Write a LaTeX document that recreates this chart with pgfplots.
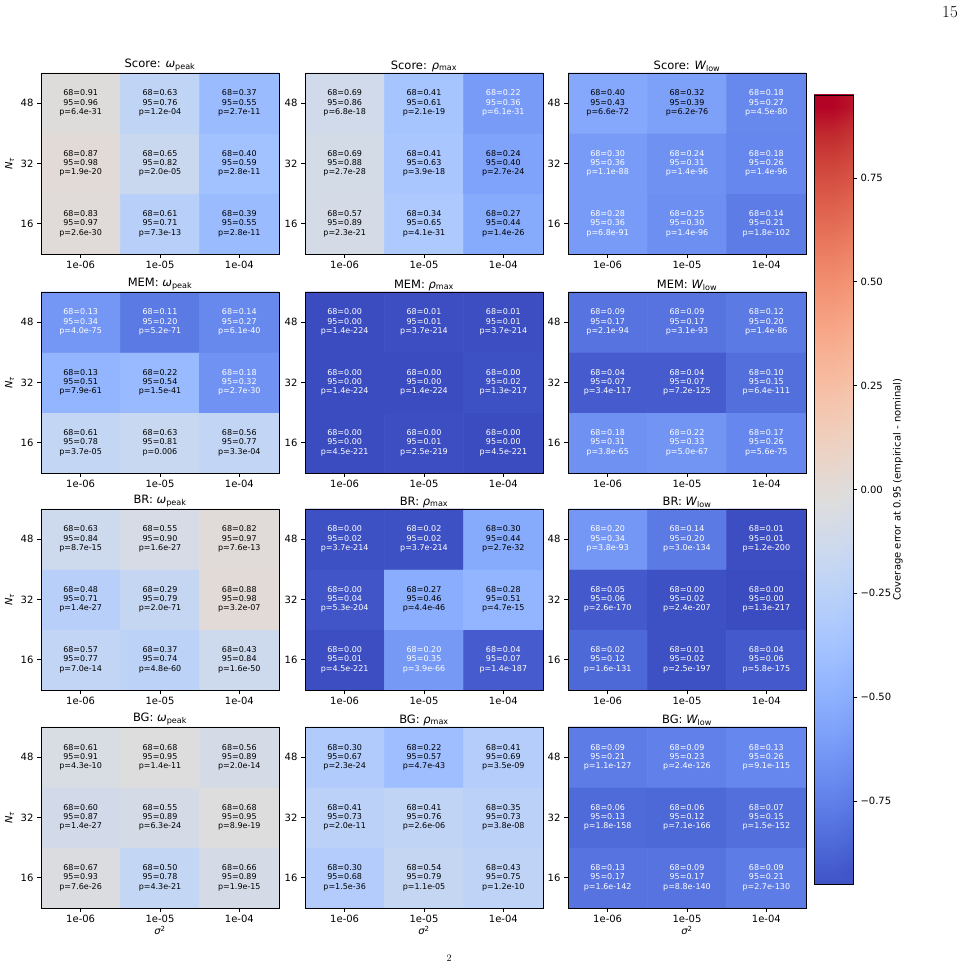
\documentclass[border=0pt]{standalone}
\usepackage{fontspec}
\usepackage{pgfplots}
\pgfplotsset{compat=1.18}
\usepackage{pgfplotstable}
\newfontfamily\dv{DejaVu Sans}

% coolwarm diverging colormap
\pgfplotsset{colormap={coolwarm}{
 rgb255=(59,76,192) rgb255=(68,90,204) rgb255=(77,104,215) rgb255=(87,117,225)
 rgb255=(98,130,234) rgb255=(108,142,241) rgb255=(119,154,247) rgb255=(130,165,251)
 rgb255=(141,176,254) rgb255=(152,185,255) rgb255=(163,194,255) rgb255=(174,201,253)
 rgb255=(184,208,249) rgb255=(194,213,244) rgb255=(204,217,238) rgb255=(213,219,230)
 rgb255=(221,221,221) rgb255=(229,216,209) rgb255=(236,211,197) rgb255=(241,204,185)
 rgb255=(245,196,173) rgb255=(247,187,160) rgb255=(247,177,148) rgb255=(247,166,135)
 rgb255=(244,154,123) rgb255=(241,141,111) rgb255=(236,127,99) rgb255=(229,112,88)
 rgb255=(222,96,77) rgb255=(213,80,66) rgb255=(203,62,56) rgb255=(192,40,47)
 rgb255=(180,4,38)}}

% columns: x = sigma^2 index (1e-06,1e-05,1e-04), y = N index (16,32,48)
% a = coverage at 68%, b = coverage at 95%, p = p-value
\pgfplotstableread{
x y a b p
0 0 0.83 0.97 2.6e-30
1 0 0.61 0.71 7.3e-13
2 0 0.39 0.55 2.8e-11
0 1 0.87 0.98 1.9e-20
1 1 0.65 0.82 2.0e-05
2 1 0.40 0.59 2.8e-11
0 2 0.91 0.96 6.4e-31
1 2 0.63 0.76 1.2e-04
2 2 0.37 0.55 2.7e-11
}\ScoreW
\pgfplotstableread{
x y a b p
0 0 0.57 0.89 2.3e-21
1 0 0.34 0.65 4.1e-31
2 0 0.27 0.44 1.4e-26
0 1 0.69 0.88 2.7e-28
1 1 0.41 0.63 3.9e-18
2 1 0.24 0.40 2.7e-24
0 2 0.69 0.86 6.8e-18
1 2 0.41 0.61 2.1e-19
2 2 0.22 0.36 6.1e-31
}\ScoreR
\pgfplotstableread{
x y a b p
0 0 0.28 0.36 6.8e-91
1 0 0.25 0.30 1.4e-96
2 0 0.14 0.21 1.8e-102
0 1 0.30 0.36 1.1e-88
1 1 0.24 0.31 1.4e-96
2 1 0.18 0.26 1.4e-96
0 2 0.40 0.43 6.6e-72
1 2 0.32 0.39 6.2e-76
2 2 0.18 0.27 4.5e-80
}\ScoreL
\pgfplotstableread{
x y a b p
0 0 0.61 0.78 3.7e-05
1 0 0.63 0.81 0.006
2 0 0.56 0.77 3.3e-04
0 1 0.13 0.51 7.9e-61
1 1 0.22 0.54 1.5e-41
2 1 0.18 0.32 2.7e-30
0 2 0.13 0.34 4.0e-75
1 2 0.11 0.20 5.2e-71
2 2 0.14 0.27 6.1e-40
}\MemW
\pgfplotstableread{
x y a b p
0 0 0.00 0.00 4.5e-221
1 0 0.00 0.01 2.5e-219
2 0 0.00 0.00 4.5e-221
0 1 0.00 0.00 1.4e-224
1 1 0.00 0.00 1.4e-224
2 1 0.00 0.02 1.3e-217
0 2 0.00 0.00 1.4e-224
1 2 0.01 0.01 3.7e-214
2 2 0.01 0.01 3.7e-214
}\MemR
\pgfplotstableread{
x y a b p
0 0 0.18 0.31 3.8e-65
1 0 0.22 0.33 5.0e-67
2 0 0.17 0.26 5.6e-75
0 1 0.04 0.07 3.4e-117
1 1 0.04 0.07 7.2e-125
2 1 0.10 0.15 6.4e-111
0 2 0.09 0.17 2.1e-94
1 2 0.09 0.17 3.1e-93
2 2 0.12 0.20 1.4e-86
}\MemL
\pgfplotstableread{
x y a b p
0 0 0.57 0.77 7.0e-14
1 0 0.37 0.74 4.8e-60
2 0 0.43 0.84 1.6e-50
0 1 0.48 0.71 1.4e-27
1 1 0.29 0.79 2.0e-71
2 1 0.88 0.98 3.2e-07
0 2 0.63 0.84 8.7e-15
1 2 0.55 0.90 1.6e-27
2 2 0.82 0.97 7.6e-13
}\BrW
\pgfplotstableread{
x y a b p
0 0 0.00 0.01 4.5e-221
1 0 0.20 0.35 3.9e-66
2 0 0.04 0.07 1.4e-187
0 1 0.00 0.04 5.3e-204
1 1 0.27 0.46 4.4e-46
2 1 0.28 0.51 4.7e-15
0 2 0.00 0.02 3.7e-214
1 2 0.02 0.02 3.7e-214
2 2 0.30 0.44 2.7e-32
}\BrR
\pgfplotstableread{
x y a b p
0 0 0.02 0.12 1.6e-131
1 0 0.01 0.02 2.5e-197
2 0 0.04 0.06 5.8e-175
0 1 0.05 0.06 2.6e-170
1 1 0.00 0.02 2.4e-207
2 1 0.00 0.00 1.3e-217
0 2 0.20 0.34 3.8e-93
1 2 0.14 0.20 3.0e-134
2 2 0.01 0.01 1.2e-200
}\BrL
\pgfplotstableread{
x y a b p
0 0 0.67 0.93 7.6e-26
1 0 0.50 0.78 4.3e-21
2 0 0.66 0.89 1.9e-15
0 1 0.60 0.87 1.4e-27
1 1 0.55 0.89 6.3e-24
2 1 0.68 0.95 8.9e-19
0 2 0.61 0.91 4.3e-10
1 2 0.68 0.95 1.4e-11
2 2 0.56 0.89 2.0e-14
}\BgW
\pgfplotstableread{
x y a b p
0 0 0.30 0.68 1.5e-36
1 0 0.54 0.79 1.1e-05
2 0 0.43 0.75 1.2e-10
0 1 0.41 0.73 2.0e-11
1 1 0.41 0.76 2.6e-06
2 1 0.35 0.73 3.8e-08
0 2 0.30 0.67 2.3e-24
1 2 0.22 0.57 4.7e-43
2 2 0.41 0.69 3.5e-09
}\BgR
\pgfplotstableread{
x y a b p
0 0 0.13 0.17 1.6e-142
1 0 0.09 0.17 8.8e-140
2 0 0.09 0.21 2.7e-130
0 1 0.06 0.13 1.8e-158
1 1 0.06 0.12 7.1e-166
2 1 0.07 0.15 1.5e-152
0 2 0.09 0.21 1.1e-127
1 2 0.09 0.23 2.4e-126
2 2 0.13 0.26 9.1e-115
}\BgL

% colour bar strip: one row per colormap stop, coverage scale 0 .. 1.9
\pgfplotstableread{
x y
0 0
1 0
0 0.059375
1 0.059375
0 0.11875
1 0.11875
0 0.178125
1 0.178125
0 0.2375
1 0.2375
0 0.296875
1 0.296875
0 0.35625
1 0.35625
0 0.415625
1 0.415625
0 0.475
1 0.475
0 0.534375
1 0.534375
0 0.59375
1 0.59375
0 0.653125
1 0.653125
0 0.7125
1 0.7125
0 0.771875
1 0.771875
0 0.83125
1 0.83125
0 0.890625
1 0.890625
0 0.95
1 0.95
0 1.009375
1 1.009375
0 1.06875
1 1.06875
0 1.128125
1 1.128125
0 1.1875
1 1.1875
0 1.246875
1 1.246875
0 1.30625
1 1.30625
0 1.365625
1 1.365625
0 1.425
1 1.425
0 1.484375
1 1.484375
0 1.54375
1 1.54375
0 1.603125
1 1.603125
0 1.6625
1 1.6625
0 1.721875
1 1.721875
0 1.78125
1 1.78125
0 1.840625
1 1.840625
0 1.9
1 1.9
}\BarStrip

\newcommand\wpk{{\itshape ω}\textsubscript{peak}}
\newcommand\rmx{{\itshape ρ}\textsubscript{max}}
\newcommand\wlo{{\itshape W}\textsubscript{low}}
\newcommand\nlab{{\itshape N}\textsubscript{\itshape τ}}

\pgfplotsset{
 panel/.style={
  scale only axis, width=238pt, height=181pt, anchor=south west,
  xmin=-0.5, xmax=2.5, ymin=-0.5, ymax=2.5, enlargelimits=false,
  xtick={0,1,2}, xticklabels={1e-06,1e-05,1e-04},
  ytick={0,1,2}, yticklabels={16,32,48},
  tick align=outside, xtick pos=left, ytick pos=left,
  major tick length=4pt,
  every tick/.style={black, line width=0.8pt},
  axis line style={line width=0.8pt},
  axis on top,
  % colour = coverage at 95% mapped as the error (coverage - 0.95) on [-0.95, 0.95]
  colormap name=coolwarm, point meta min=0, point meta max=1.9,
  /pgf/number format/assume math mode=true,
  tick label style={font=\dv\fontsize{10}{12}\selectfont},
  title style={font=\dv\fontsize{11.5}{13}\selectfont, yshift=-8pt},
  label style={font=\dv\fontsize{10}{12}\selectfont},
  xlabel style={yshift=4pt},
 },
 cells/.style={matrix plot*, mesh/cols=3, point meta=explicit},
}
\tikzset{annot/.style={anchor=center, align=center, inner sep=0pt,
    font=\dv\fontsize{8}{9.3}\selectfont}}

\newcommand\panel[5]{%
 \begin{axis}[panel, at={(#1pt,#2pt)}, title={#4}, #5]
  \addplot[cells] table[x=x, y=y, meta=b] {#3};
  \pgfplotsforeachungrouped \r in {0,...,8}{%
   \pgfplotstablegetelem{\r}{x}\of#3\let\cx\pgfplotsretval
   \pgfplotstablegetelem{\r}{y}\of#3\let\cy\pgfplotsretval
   \pgfplotstablegetelem{\r}{a}\of#3\let\ca\pgfplotsretval
   \pgfplotstablegetelem{\r}{b}\of#3\let\cb\pgfplotsretval
   \pgfplotstablegetelem{\r}{p}\of#3\let\cp\pgfplotsretval
   \ifdim\cb pt<0.375pt \def\cc{white}\else\def\cc{black}\fi
   \edef\tmp{\noexpand\node[annot, text=\cc] at (axis cs:\cx,\cy)
     {68=\ca\noexpand\\95=\cb\noexpand\\p=\cp};}%
   \tmp
  }
 \end{axis}}

\begin{document}
\begin{tikzpicture}[x=1pt, y=1pt]
\path[use as bounding box] (0,0) rectangle (970,972);

% row 1
\panel{41}{718}{\ScoreW}{Score: \wpk}{ylabel={\nlab}}
\panel{305}{718}{\ScoreR}{Score: \rmx}{}
\panel{568}{718}{\ScoreL}{Score: \wlo}{}
% row 2
\panel{41}{499}{\MemW}{MEM: \wpk}{ylabel={\nlab}}
\panel{305}{499}{\MemR}{MEM: \rmx}{}
\panel{568}{499}{\MemL}{MEM: \wlo}{}
% row 3
\panel{41}{282}{\BrW}{BR: \wpk}{ylabel={\nlab}}
\panel{305}{282}{\BrR}{BR: \rmx}{}
\panel{568}{282}{\BrL}{BR: \wlo}{}
% row 4
\panel{41}{64}{\BgW}{BG: \wpk}{ylabel={\nlab}, xlabel={{\itshape σ}\textsuperscript{2}}}
\panel{305}{64}{\BgR}{BG: \rmx}{xlabel={{\itshape σ}\textsuperscript{2}}}
\panel{568}{64}{\BgL}{BG: \wlo}{xlabel={{\itshape σ}\textsuperscript{2}}}

% colour bar
\begin{axis}[at={(814pt,88pt)}, anchor=south west,
  scale only axis, width=39pt, height=789pt,
  xmin=0, xmax=1, ymin=0, ymax=1.9, enlargelimits=false,
  colormap name=coolwarm, point meta min=0, point meta max=1.9,
  axis on top, xtick=\empty,
  ytick={0.2,0.45,0.7,0.95,1.2,1.45,1.7},
  yticklabels={−0.75,−0.50,−0.25,0.00,0.25,0.50,0.75},
  ytick pos=right, yticklabel pos=right, tick align=outside,
  major tick length=4pt,
  every tick/.style={black, line width=0.8pt},
  axis line style={line width=0.8pt},
  yticklabel style={font=\dv\fontsize{10}{12}\selectfont},
  ylabel={Coverage error at 0.95 (empirical - nominal)},
  ylabel near ticks, ylabel shift=-5pt,
  ylabel style={font=\dv\fontsize{10}{12}\selectfont}]
 \addplot[surf, shader=interp, mesh/cols=2, point meta=y] table {\BarStrip};
\end{axis}

% page furniture
\node[font=\fontsize{17}{20}\selectfont] at (950,960) {15};
\node[font=\fontsize{10}{12}\selectfont] at (449,14) {2};
\end{tikzpicture}
\end{document}
